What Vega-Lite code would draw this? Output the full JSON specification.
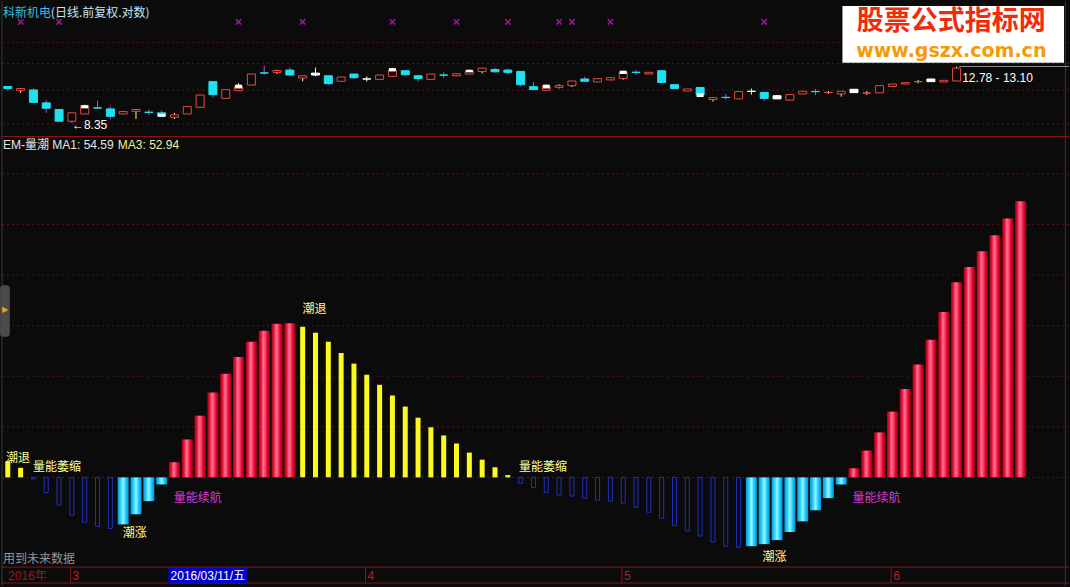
{
  "$schema": "https://vega.github.io/schema/vega-lite/v6.json",
  "width": 1070,
  "height": 587,
  "padding": 0,
  "autosize": {"type": "fit", "contains": "padding"},
  "background": "#0b0b0b",
  "config": {"view": {"stroke": null}, "scale": {"continuousPadding": 0}},
  "datasets": {
    "bars": [
      {"i":0,"v":3.2,"t":"y"},{"i":1,"v":1.9,"t":"y"},{"i":2,"v":-0.3,"t":"b"},{"i":3,"v":-3.0,"t":"b"},
      {"i":4,"v":-5.5,"t":"b"},{"i":5,"v":-7.5,"t":"b"},{"i":6,"v":-8.9,"t":"b"},{"i":7,"v":-9.7,"t":"b"},
      {"i":8,"v":-10.1,"t":"b"},{"i":9,"v":-9.3,"t":"c"},{"i":10,"v":-7.3,"t":"c"},{"i":11,"v":-4.7,"t":"c"},
      {"i":12,"v":-1.4,"t":"c"},{"i":13,"v":3.0,"t":"r"},{"i":14,"v":7.5,"t":"r"},{"i":15,"v":12.2,"t":"r"},
      {"i":16,"v":16.8,"t":"r"},{"i":17,"v":20.5,"t":"r"},{"i":18,"v":23.8,"t":"r"},{"i":19,"v":26.8,"t":"r"},
      {"i":20,"v":29.0,"t":"r"},{"i":21,"v":30.4,"t":"r"},{"i":22,"v":30.5,"t":"r"},{"i":23,"v":29.8,"t":"y"},
      {"i":24,"v":28.6,"t":"y"},{"i":25,"v":26.8,"t":"y"},{"i":26,"v":24.6,"t":"y"},{"i":27,"v":22.5,"t":"y"},
      {"i":28,"v":20.3,"t":"y"},{"i":29,"v":18.3,"t":"y"},{"i":30,"v":16.2,"t":"y"},{"i":31,"v":14.0,"t":"y"},
      {"i":32,"v":11.8,"t":"y"},{"i":33,"v":9.9,"t":"y"},{"i":34,"v":8.3,"t":"y"},{"i":35,"v":6.7,"t":"y"},
      {"i":36,"v":4.9,"t":"y"},{"i":37,"v":3.5,"t":"y"},{"i":38,"v":2.0,"t":"y"},{"i":39,"v":0.45,"t":"y"},
      {"i":40,"v":-1.2,"t":"b"},{"i":41,"v":-2.0,"t":"b"},{"i":42,"v":-3.0,"t":"b"},{"i":43,"v":-3.5,"t":"b"},
      {"i":44,"v":-3.7,"t":"b"},{"i":45,"v":-4.1,"t":"b"},{"i":46,"v":-4.5,"t":"b"},{"i":47,"v":-4.7,"t":"b"},
      {"i":48,"v":-5.1,"t":"b"},{"i":49,"v":-5.9,"t":"b"},{"i":50,"v":-6.9,"t":"b"},{"i":51,"v":-8.1,"t":"b"},
      {"i":52,"v":-9.5,"t":"b"},{"i":53,"v":-10.6,"t":"b"},{"i":54,"v":-11.6,"t":"b"},{"i":55,"v":-12.8,"t":"b"},
      {"i":56,"v":-13.6,"t":"b"},{"i":57,"v":-13.8,"t":"b"},{"i":58,"v":-13.6,"t":"c"},{"i":59,"v":-13.2,"t":"c"},
      {"i":60,"v":-12.4,"t":"c"},{"i":61,"v":-10.8,"t":"c"},{"i":62,"v":-8.7,"t":"c"},{"i":63,"v":-6.5,"t":"c"},
      {"i":64,"v":-4.1,"t":"c"},{"i":65,"v":-1.4,"t":"c"},{"i":66,"v":1.8,"t":"r"},{"i":67,"v":5.3,"t":"r"},
      {"i":68,"v":8.9,"t":"r"},{"i":69,"v":13.0,"t":"r"},{"i":70,"v":17.5,"t":"r"},{"i":71,"v":22.3,"t":"r"},
      {"i":72,"v":27.2,"t":"r"},{"i":73,"v":32.7,"t":"r"},{"i":74,"v":38.6,"t":"r"},{"i":75,"v":41.6,"t":"r"},
      {"i":76,"v":44.7,"t":"r"},{"i":77,"v":47.9,"t":"r"},{"i":78,"v":51.2,"t":"r"},{"i":79,"v":54.59,"t":"r"}
    ],
    "candles": [
      {"i":0,"t":"down","o":11.16,"c":10.98,"h":11.16,"l":10.79},
      {"i":1,"t":"up","o":10.81,"c":10.98,"h":10.98,"l":10.60},
      {"i":2,"t":"down","o":10.85,"c":9.82,"h":10.98,"l":9.82},
      {"i":3,"t":"down","o":9.78,"c":9.37,"h":10.01,"l":9.03},
      {"i":4,"t":"down","o":9.27,"c":8.44,"h":9.27,"l":8.44},
      {"i":5,"t":"up","o":8.44,"c":9.03,"h":9.03,"l":8.35},
      {"i":6,"t":"up","o":8.95,"c":9.57,"h":9.64,"l":8.95,"w1":9.60,"w2":9.36},
      {"i":7,"t":"down","o":9.40,"c":9.38,"h":9.96,"l":9.38},
      {"i":8,"t":"down","o":9.32,"c":8.78,"h":9.51,"l":8.56},
      {"i":9,"t":"up","o":8.95,"c":9.12,"h":9.15,"l":8.93},
      {"i":10,"t":"up","o":9.14,"c":9.27,"h":9.27,"l":8.60},
      {"i":11,"t":"down","o":9.08,"c":9.06,"h":9.27,"l":8.88},
      {"i":12,"t":"down","o":9.03,"c":8.78,"h":9.19,"l":8.78,"w1":8.95,"w2":8.76},
      {"i":13,"t":"up","o":8.71,"c":8.88,"h":9.03,"l":8.60},
      {"i":14,"t":"up","o":8.95,"c":9.49,"h":9.49,"l":8.95},
      {"i":15,"t":"up","o":9.44,"c":10.42,"h":10.42,"l":9.44},
      {"i":16,"t":"down","o":11.60,"c":10.45,"h":11.60,"l":10.22},
      {"i":17,"t":"up","o":10.14,"c":10.88,"h":10.88,"l":10.14},
      {"i":18,"t":"up","o":10.79,"c":11.16,"h":11.47,"l":10.79,"w1":11.32,"w2":10.98},
      {"i":19,"t":"up","o":11.29,"c":12.33,"h":12.33,"l":11.29},
      {"i":20,"t":"down","o":12.45,"c":12.42,"h":13.17,"l":12.26},
      {"i":21,"t":"up","o":12.50,"c":12.69,"h":12.76,"l":12.33},
      {"i":22,"t":"down","o":12.73,"c":12.23,"h":12.99,"l":12.23},
      {"i":23,"t":"up","o":11.94,"c":12.16,"h":12.16,"l":11.63},
      {"i":24,"t":"white","o":12.42,"c":12.23,"h":12.99,"l":12.10},
      {"i":25,"t":"down","o":12.16,"c":11.41,"h":12.16,"l":11.29},
      {"i":26,"t":"up","o":11.63,"c":12.04,"h":12.04,"l":11.63},
      {"i":27,"t":"down","o":12.33,"c":11.97,"h":12.33,"l":11.85},
      {"i":28,"t":"white","o":11.86,"c":11.84,"h":12.10,"l":11.60},
      {"i":29,"t":"up","o":11.81,"c":12.23,"h":12.23,"l":11.81},
      {"i":30,"t":"up","o":12.10,"c":12.73,"h":12.96,"l":12.10,"w1":12.93,"w2":12.59},
      {"i":31,"t":"down","o":12.66,"c":12.26,"h":12.66,"l":12.26},
      {"i":32,"t":"down","o":12.16,"c":11.90,"h":12.16,"l":11.60},
      {"i":33,"t":"up","o":11.81,"c":12.33,"h":12.33,"l":11.81},
      {"i":34,"t":"down","o":12.24,"c":12.22,"h":12.50,"l":11.97},
      {"i":35,"t":"up","o":12.16,"c":12.36,"h":12.40,"l":12.12},
      {"i":36,"t":"up","o":12.33,"c":12.63,"h":12.76,"l":12.33,"w1":12.76,"w2":12.50},
      {"i":37,"t":"up","o":12.59,"c":12.93,"h":12.93,"l":12.39},
      {"i":38,"t":"down","o":12.79,"c":12.56,"h":12.93,"l":12.43},
      {"i":39,"t":"down","o":12.73,"c":12.50,"h":12.90,"l":12.33},
      {"i":40,"t":"down","o":12.59,"c":11.32,"h":12.59,"l":11.16},
      {"i":41,"t":"down","o":11.14,"c":10.88,"h":11.57,"l":10.88},
      {"i":42,"t":"up","o":10.81,"c":11.16,"h":11.32,"l":10.81,"w1":11.32,"w2":10.98},
      {"i":43,"t":"up","o":11.08,"c":11.23,"h":11.35,"l":10.98},
      {"i":44,"t":"up","o":11.23,"c":11.66,"h":11.66,"l":11.11},
      {"i":45,"t":"down","o":11.85,"c":11.63,"h":12.07,"l":11.63},
      {"i":46,"t":"up","o":11.57,"c":11.88,"h":11.88,"l":11.57},
      {"i":47,"t":"up","o":11.76,"c":11.97,"h":11.97,"l":11.76},
      {"i":48,"t":"up","o":11.91,"c":12.50,"h":12.66,"l":11.78,"w1":12.66,"w2":12.33},
      {"i":49,"t":"down","o":12.51,"c":12.49,"h":12.73,"l":12.23},
      {"i":50,"t":"up","o":12.33,"c":12.50,"h":12.50,"l":12.33},
      {"i":51,"t":"down","o":12.66,"c":11.52,"h":12.66,"l":11.52},
      {"i":52,"t":"down","o":11.32,"c":10.98,"h":11.32,"l":10.94},
      {"i":53,"t":"up","o":10.76,"c":10.94,"h":10.94,"l":10.76},
      {"i":54,"t":"down","o":11.07,"c":10.45,"h":11.07,"l":10.30,"w1":10.56,"w2":10.25},
      {"i":55,"t":"up","o":10.04,"c":10.20,"h":10.20,"l":9.88},
      {"i":56,"t":"down","o":10.23,"c":10.21,"h":10.51,"l":10.04},
      {"i":57,"t":"up","o":10.10,"c":10.71,"h":10.71,"l":10.10},
      {"i":58,"t":"white","o":10.74,"c":10.72,"h":10.98,"l":10.45},
      {"i":59,"t":"down","o":10.64,"c":10.14,"h":10.64,"l":9.93},
      {"i":60,"t":"white","o":10.36,"c":10.10,"h":10.42,"l":10.10},
      {"i":61,"t":"up","o":10.00,"c":10.45,"h":10.45,"l":10.00},
      {"i":62,"t":"up","o":10.51,"c":10.74,"h":10.74,"l":10.51},
      {"i":63,"t":"down","o":10.72,"c":10.70,"h":10.94,"l":10.42},
      {"i":64,"t":"up","o":10.63,"c":10.65,"h":10.76,"l":10.51},
      {"i":65,"t":"up","o":10.51,"c":10.74,"h":10.74,"l":10.28},
      {"i":66,"t":"white","o":10.91,"c":10.62,"h":10.91,"l":10.62},
      {"i":67,"t":"up","o":10.58,"c":10.60,"h":10.76,"l":10.42},
      {"i":68,"t":"up","o":10.60,"c":11.23,"h":11.23,"l":10.60},
      {"i":69,"t":"up","o":11.16,"c":11.38,"h":11.38,"l":11.16},
      {"i":70,"t":"up","o":11.38,"c":11.50,"h":11.50,"l":11.38},
      {"i":71,"t":"up","o":11.59,"c":11.61,"h":11.75,"l":11.44},
      {"i":72,"t":"white","o":11.60,"c":11.85,"h":11.85,"l":11.60},
      {"i":73,"t":"up","o":11.56,"c":11.72,"h":11.72,"l":11.56},
      {"i":74,"t":"up","o":11.66,"c":12.93,"h":13.10,"l":11.66}
    ],
    "labels": [
      {"i":-0.14,"v":3.74,"label":"潮退","k":"y"},
      {"i":1.96,"v":1.97,"label":"量能萎缩","k":"y"},
      {"i":8.97,"v":-11.04,"label":"潮涨","k":"y"},
      {"i":12.94,"v":-4.14,"label":"量能续航","k":"m"},
      {"i":22.98,"v":33.21,"label":"潮退","k":"y"},
      {"i":39.88,"v":1.97,"label":"量能萎缩","k":"y"},
      {"i":58.87,"v":-15.77,"label":"潮涨","k":"y"},
      {"i":65.88,"v":-4.14,"label":"量能续航","k":"m"}
    ],
    "sig": [{"i":1},{"i":4},{"i":18},{"i":23},{"i":30},{"i":35},{"i":39},{"i":43},{"i":44},{"i":47},{"i":59}],
    "months": [
      {"i":4.9,"m":"3"},{"i":27.9,"m":"4"},{"i":47.9,"m":"5"},{"i":68.9,"m":"6"}
    ]
  },
  "layer": [
    {
      "layer": [
        {
          "data": {"values": [{"g":0},{"g":10},{"g":20},{"g":30},{"g":40},{"g":50},{"g":60}]},
          "mark": {"type": "rule", "color": "#5e1414", "strokeDash": [2, 3], "strokeWidth": 1},
          "encoding": {"y": {"field": "g", "type": "quantitative", "scale": {"domain": [-21.48, 94.2], "nice": false, "zero": false}, "axis": null}}
        },
        {
          "data": {"values": [{"g":67.4},{"g":-17.74},{"g":-20.89}]},
          "mark": {"type": "rule", "color": "#8a1414", "strokeWidth": 1},
          "encoding": {"y": {"field": "g", "type": "quantitative", "scale": {"domain": [-21.48, 94.2], "nice": false, "zero": false}, "axis": null}}
        },
        {
          "data": {"values": [{}]},
          "mark": {"type": "rule", "color": "#8a1414", "strokeWidth": 1},
          "encoding": {"x": {"datum": 82.49, "type": "quantitative", "scale": {"domain": [-0.529, 82.77], "nice": false, "zero": false}, "axis": null}}
        },
        {
          "data": {"values": [{}]},
          "mark": {"type": "rule", "color": "#3a3a3a", "strokeWidth": 1},
          "encoding": {"x": {"datum": -0.45, "type": "quantitative", "scale": {"domain": [-0.529, 82.77], "nice": false, "zero": false}, "axis": null}}
        },
        {
          "data": {"name": "months"},
          "mark": {"type": "rule", "color": "#8a1414", "strokeWidth": 1},
          "encoding": {
            "x": {"field": "i", "type": "quantitative", "scale": {"domain": [-0.529, 82.77], "nice": false, "zero": false}, "axis": null},
            "y": {"datum": -17.74, "type": "quantitative", "scale": {"domain": [-21.48, 94.2], "nice": false, "zero": false}, "axis": null},
            "y2": {"datum": -20.89}
          }
        },
        {
          "data": {"name": "months"},
          "mark": {"type": "text", "color": "#b82020", "font": "Liberation Sans", "fontSize": 12, "align": "left", "baseline": "middle", "dx": 2},
          "encoding": {
            "x": {"field": "i", "type": "quantitative", "scale": {"domain": [-0.529, 82.77], "nice": false, "zero": false}, "axis": null},
            "y": {"datum": -19.41, "type": "quantitative", "scale": {"domain": [-21.48, 94.2], "nice": false, "zero": false}, "axis": null},
            "text": {"field": "m"}
          }
        },
        {
          "data": {"values": [{"txt": "2016年"}]},
          "mark": {"type": "text", "color": "#a01818", "font": "Liberation Sans, Noto Sans CJK SC", "fontSize": 12, "align": "left", "baseline": "middle"},
          "encoding": {
            "x": {"datum": 0.02, "type": "quantitative", "scale": {"domain": [-0.529, 82.77], "nice": false, "zero": false}, "axis": null},
            "y": {"datum": -19.41, "type": "quantitative", "scale": {"domain": [-21.48, 94.2], "nice": false, "zero": false}, "axis": null},
            "text": {"field": "txt"}
          }
        },
        {
          "data": {"values": [{}]},
          "mark": {"type": "rect", "color": "#0000c8"},
          "encoding": {
            "x": {"datum": 12.53, "type": "quantitative", "scale": {"domain": [-0.529, 82.77], "nice": false, "zero": false}, "axis": null},
            "x2": {"datum": 18.68},
            "y": {"datum": -17.93, "type": "quantitative", "scale": {"domain": [-21.48, 94.2], "nice": false, "zero": false}, "axis": null},
            "y2": {"datum": -20.89}
          }
        },
        {
          "data": {"values": [{"txt": "2016/03/11/五"}]},
          "mark": {"type": "text", "color": "#ffffff", "font": "Liberation Sans, Noto Sans CJK SC", "fontSize": 12, "align": "center", "baseline": "middle"},
          "encoding": {
            "x": {"datum": 15.6, "type": "quantitative", "scale": {"domain": [-0.529, 82.77], "nice": false, "zero": false}, "axis": null},
            "y": {"datum": -19.41, "type": "quantitative", "scale": {"domain": [-21.48, 94.2], "nice": false, "zero": false}, "axis": null},
            "text": {"field": "txt"}
          }
        },
        {
          "data": {"name": "bars"},
          "transform": [{"filter": "datum.t === 'b'"}],
          "mark": {"type": "bar", "size": 4, "fill": "#0b0b0b", "stroke": "#2230bc", "strokeWidth": 1},
          "encoding": {
            "x": {"field": "i", "type": "quantitative", "scale": {"domain": [-0.529, 82.77], "nice": false, "zero": false}, "axis": null},
            "y": {"field": "v", "type": "quantitative", "scale": {"domain": [-21.48, 94.2], "nice": false, "zero": false}, "axis": null},
            "y2": {"datum": 0}
          }
        },
        {
          "data": {"name": "bars"},
          "transform": [{"filter": "datum.t === 'y'"}],
          "mark": {"type": "bar", "size": 5, "color": "#fafa1e"},
          "encoding": {
            "x": {"field": "i", "type": "quantitative", "scale": {"domain": [-0.529, 82.77], "nice": false, "zero": false}, "axis": null},
            "y": {"field": "v", "type": "quantitative", "scale": {"domain": [-21.48, 94.2], "nice": false, "zero": false}, "axis": null},
            "y2": {"datum": 0}
          }
        },
        {
          "data": {"name": "bars"},
          "transform": [{"filter": "datum.t === 'r'"}],
          "mark": {"type": "bar", "size": 11, "fill": {"gradient": "linear", "x1": 0, "y1": 0, "x2": 1, "y2": 0, "stops": [
            {"offset": 0, "color": "#a8001a"}, {"offset": 0.2, "color": "#e0102e"}, {"offset": 0.42, "color": "#ff7098"},
            {"offset": 0.56, "color": "#ff4a72"}, {"offset": 0.8, "color": "#e0002a"}, {"offset": 1, "color": "#9a0016"}]}},
          "encoding": {
            "x": {"field": "i", "type": "quantitative", "scale": {"domain": [-0.529, 82.77], "nice": false, "zero": false}, "axis": null},
            "y": {"field": "v", "type": "quantitative", "scale": {"domain": [-21.48, 94.2], "nice": false, "zero": false}, "axis": null},
            "y2": {"datum": 0}
          }
        },
        {
          "data": {"name": "bars"},
          "transform": [{"filter": "datum.t === 'c'"}],
          "mark": {"type": "bar", "size": 11, "fill": {"gradient": "linear", "x1": 0, "y1": 0, "x2": 1, "y2": 0, "stops": [
            {"offset": 0, "color": "#0096d8"}, {"offset": 0.3, "color": "#30d8ff"}, {"offset": 0.5, "color": "#9af4ff"},
            {"offset": 0.72, "color": "#20d0ff"}, {"offset": 1, "color": "#0090d0"}]}},
          "encoding": {
            "x": {"field": "i", "type": "quantitative", "scale": {"domain": [-0.529, 82.77], "nice": false, "zero": false}, "axis": null},
            "y": {"field": "v", "type": "quantitative", "scale": {"domain": [-21.48, 94.2], "nice": false, "zero": false}, "axis": null},
            "y2": {"datum": 0}
          }
        },
        {
          "data": {"name": "labels"},
          "mark": {"type": "text", "font": "Noto Sans CJK SC", "fontSize": 12, "align": "left", "baseline": "middle"},
          "encoding": {
            "x": {"field": "i", "type": "quantitative", "scale": {"domain": [-0.529, 82.77], "nice": false, "zero": false}, "axis": null},
            "y": {"field": "v", "type": "quantitative", "scale": {"domain": [-21.48, 94.2], "nice": false, "zero": false}, "axis": null},
            "text": {"field": "label"},
            "color": {"field": "k", "type": "nominal", "scale": {"domain": ["y", "m"], "range": ["#ffff96", "#d23cd2"]}, "legend": null}
          }
        },
        {
          "data": {"values": [{"txt": "EM-量潮 MA1: 54.59"}]},
          "mark": {"type": "text", "color": "#e6e6e6", "font": "Liberation Sans, Noto Sans CJK SC", "fontSize": 12, "align": "left", "baseline": "middle"},
          "encoding": {
            "x": {"datum": -0.374, "type": "quantitative", "scale": {"domain": [-0.529, 82.77], "nice": false, "zero": false}, "axis": null},
            "y": {"datum": 65.63, "type": "quantitative", "scale": {"domain": [-21.48, 94.2], "nice": false, "zero": false}, "axis": null},
            "text": {"field": "txt"}
          }
        },
        {
          "data": {"values": [{"txt": "MA3: 52.94"}]},
          "mark": {"type": "text", "color": "#f0f0a0", "font": "Liberation Sans", "fontSize": 12, "align": "left", "baseline": "middle"},
          "encoding": {
            "x": {"datum": 8.58, "type": "quantitative", "scale": {"domain": [-0.529, 82.77], "nice": false, "zero": false}, "axis": null},
            "y": {"datum": 65.63, "type": "quantitative", "scale": {"domain": [-21.48, 94.2], "nice": false, "zero": false}, "axis": null},
            "text": {"field": "txt"}
          }
        },
        {
          "data": {"values": [{"txt": "用到未来数据"}]},
          "mark": {"type": "text", "color": "#969696", "font": "Noto Sans CJK SC", "fontSize": 12, "align": "left", "baseline": "middle"},
          "encoding": {
            "x": {"datum": -0.374, "type": "quantitative", "scale": {"domain": [-0.529, 82.77], "nice": false, "zero": false}, "axis": null},
            "y": {"datum": -16.16, "type": "quantitative", "scale": {"domain": [-21.48, 94.2], "nice": false, "zero": false}, "axis": null},
            "text": {"field": "txt"}
          }
        },
        {
          "data": {"values": [{}]},
          "mark": {"type": "rect", "color": "#4a4a4a", "cornerRadius": 3},
          "encoding": {
            "x": {"datum": -0.6, "type": "quantitative", "scale": {"domain": [-0.529, 82.77], "nice": false, "zero": false}, "axis": null},
            "x2": {"datum": 0.16},
            "y": {"datum": 38.0, "type": "quantitative", "scale": {"domain": [-21.48, 94.2], "nice": false, "zero": false}, "axis": null},
            "y2": {"datum": 27.8}
          }
        },
        {
          "data": {"values": [{"txt": "▶"}]},
          "mark": {"type": "text", "color": "#f0a020", "font": "DejaVu Sans", "fontSize": 8, "align": "center", "baseline": "middle"},
          "encoding": {
            "x": {"datum": -0.22, "type": "quantitative", "scale": {"domain": [-0.529, 82.77], "nice": false, "zero": false}, "axis": null},
            "y": {"datum": 33.1, "type": "quantitative", "scale": {"domain": [-21.48, 94.2], "nice": false, "zero": false}, "axis": null},
            "text": {"field": "txt"}
          }
        }
      ]
    },
    {
      "layer": [
        {
          "data": {"values": [{"p":15.87},{"p":13.42},{"p":10.85},{"p":8.26}]},
          "mark": {"type": "rule", "color": "#5e1414", "strokeDash": [2, 3], "strokeWidth": 1},
          "encoding": {"y": {"field": "p", "type": "quantitative", "scale": {"type": "log", "domain": [0.2023, 22.16], "nice": false}, "axis": null}}
        },
        {
          "data": {"name": "candles"},
          "mark": {"type": "rule", "strokeWidth": 1},
          "encoding": {
            "x": {"field": "i", "type": "quantitative", "scale": {"domain": [-0.529, 82.77], "nice": false, "zero": false}, "axis": null},
            "y": {"field": "l", "type": "quantitative", "scale": {"type": "log", "domain": [0.2023, 22.16], "nice": false}, "axis": null},
            "y2": {"field": "h"},
            "color": {"field": "t", "type": "nominal", "scale": {"domain": ["up", "down", "white"], "range": ["#e64a3e", "#1ee2f0", "#ffffff"]}, "legend": null}
          }
        },
        {
          "data": {"name": "candles"},
          "mark": {"type": "bar", "size": 8, "strokeWidth": 1},
          "encoding": {
            "x": {"field": "i", "type": "quantitative", "scale": {"domain": [-0.529, 82.77], "nice": false, "zero": false}, "axis": null},
            "y": {"field": "o", "type": "quantitative", "scale": {"type": "log", "domain": [0.2023, 22.16], "nice": false}, "axis": null},
            "y2": {"field": "c"},
            "fill": {"field": "t", "type": "nominal", "scale": {"domain": ["up", "down", "white"], "range": ["#0b0b0b", "#1ee2f0", "#ffffff"]}, "legend": null},
            "stroke": {"field": "t", "type": "nominal", "scale": {"domain": ["up", "down", "white"], "range": ["#e64a3e", "#1ee2f0", "#ffffff"]}, "legend": null}
          }
        },
        {
          "data": {"name": "candles"},
          "transform": [{"filter": "isValid(datum.w1)"}],
          "mark": {"type": "bar", "size": 7, "color": "#ffffff"},
          "encoding": {
            "x": {"field": "i", "type": "quantitative", "scale": {"domain": [-0.529, 82.77], "nice": false, "zero": false}, "axis": null},
            "y": {"field": "w1", "type": "quantitative", "scale": {"type": "log", "domain": [0.2023, 22.16], "nice": false}, "axis": null},
            "y2": {"field": "w2"}
          }
        },
        {
          "data": {"name": "sig"},
          "mark": {"type": "point", "shape": "M-1,-1L1,1M1,-1L-1,1", "size": 30, "stroke": "#c81ec8", "strokeWidth": 1.5, "filled": false},
          "encoding": {
            "x": {"field": "i", "type": "quantitative", "scale": {"domain": [-0.529, 82.77], "nice": false, "zero": false}, "axis": null},
            "y": {"datum": 18.74, "type": "quantitative", "scale": {"type": "log", "domain": [0.2023, 22.16], "nice": false}, "axis": null}
          }
        },
        {
          "data": {"values": [{"txt": "科新机电"}]},
          "mark": {"type": "text", "color": "#38bce6", "font": "Noto Sans CJK SC", "fontSize": 12, "align": "left", "baseline": "middle"},
          "encoding": {
            "x": {"datum": -0.374, "type": "quantitative", "scale": {"domain": [-0.529, 82.77], "nice": false, "zero": false}, "axis": null},
            "y": {"datum": 20.13, "type": "quantitative", "scale": {"type": "log", "domain": [0.2023, 22.16], "nice": false}, "axis": null},
            "text": {"field": "txt"}
          }
        },
        {
          "data": {"values": [{"txt": "(日线.前复权.对数)"}]},
          "mark": {"type": "text", "color": "#c8e4f0", "font": "Noto Sans CJK SC", "fontSize": 12, "align": "left", "baseline": "middle"},
          "encoding": {
            "x": {"datum": 3.36, "type": "quantitative", "scale": {"domain": [-0.529, 82.77], "nice": false, "zero": false}, "axis": null},
            "y": {"datum": 20.13, "type": "quantitative", "scale": {"type": "log", "domain": [0.2023, 22.16], "nice": false}, "axis": null},
            "text": {"field": "txt"}
          }
        },
        {
          "data": {"values": [{"txt": "←8.35"}]},
          "mark": {"type": "text", "color": "#ffffff", "font": "Liberation Sans, DejaVu Sans", "fontSize": 12, "align": "left", "baseline": "middle"},
          "encoding": {
            "x": {"datum": 5.0, "type": "quantitative", "scale": {"domain": [-0.529, 82.77], "nice": false, "zero": false}, "axis": null},
            "y": {"datum": 8.18, "type": "quantitative", "scale": {"type": "log", "domain": [0.2023, 22.16], "nice": false}, "axis": null},
            "text": {"field": "txt"}
          }
        },
        {
          "data": {"values": [{}]},
          "mark": {"type": "rule", "color": "#8c8c8c", "strokeWidth": 1},
          "encoding": {
            "x": {"datum": 74.21, "type": "quantitative", "scale": {"domain": [-0.529, 82.77], "nice": false, "zero": false}, "axis": null},
            "x2": {"datum": 82.77},
            "y": {"datum": 13.10, "type": "quantitative", "scale": {"type": "log", "domain": [0.2023, 22.16], "nice": false}, "axis": null}
          }
        },
        {
          "data": {"values": [{"txt": "12.78 - 13.10"}]},
          "mark": {"type": "text", "color": "#ffffff", "font": "Liberation Sans", "fontSize": 12, "align": "left", "baseline": "middle"},
          "encoding": {
            "x": {"datum": 74.44, "type": "quantitative", "scale": {"domain": [-0.529, 82.77], "nice": false, "zero": false}, "axis": null},
            "y": {"datum": 11.97, "type": "quantitative", "scale": {"type": "log", "domain": [0.2023, 22.16], "nice": false}, "axis": null},
            "text": {"field": "txt"}
          }
        },
        {
          "data": {"values": [{}]},
          "mark": {"type": "rect", "color": "#ffffff"},
          "encoding": {
            "x": {"datum": 65.1, "type": "quantitative", "scale": {"domain": [-0.529, 82.77], "nice": false, "zero": false}, "axis": null},
            "x2": {"datum": 82.38},
            "y": {"datum": 21.29, "type": "quantitative", "scale": {"type": "log", "domain": [0.2023, 22.16], "nice": false}, "axis": null},
            "y2": {"datum": 13.51}
          }
        },
        {
          "data": {"values": [{"txt": "股票公式指标网"}]},
          "mark": {"type": "text", "color": "#f02c0c", "font": "Noto Sans CJK SC", "fontWeight": "bold", "fontSize": 27, "align": "center", "baseline": "middle"},
          "encoding": {
            "x": {"datum": 73.59, "type": "quantitative", "scale": {"domain": [-0.529, 82.77], "nice": false, "zero": false}, "axis": null},
            "y": {"datum": 18.74, "type": "quantitative", "scale": {"type": "log", "domain": [0.2023, 22.16], "nice": false}, "axis": null},
            "text": {"field": "txt"}
          }
        },
        {
          "data": {"values": [{"txt": "www.gszx.com.cn"}]},
          "mark": {"type": "text", "color": "#f59a08", "font": "DejaVu Sans", "fontWeight": "bold", "fontSize": 19, "align": "center", "baseline": "middle"},
          "encoding": {
            "x": {"datum": 73.59, "type": "quantitative", "scale": {"domain": [-0.529, 82.77], "nice": false, "zero": false}, "axis": null},
            "y": {"datum": 14.85, "type": "quantitative", "scale": {"type": "log", "domain": [0.2023, 22.16], "nice": false}, "axis": null},
            "text": {"field": "txt"}
          }
        }
      ]
    }
  ],
  "resolve": {"scale": {"y": "independent"}}
}
